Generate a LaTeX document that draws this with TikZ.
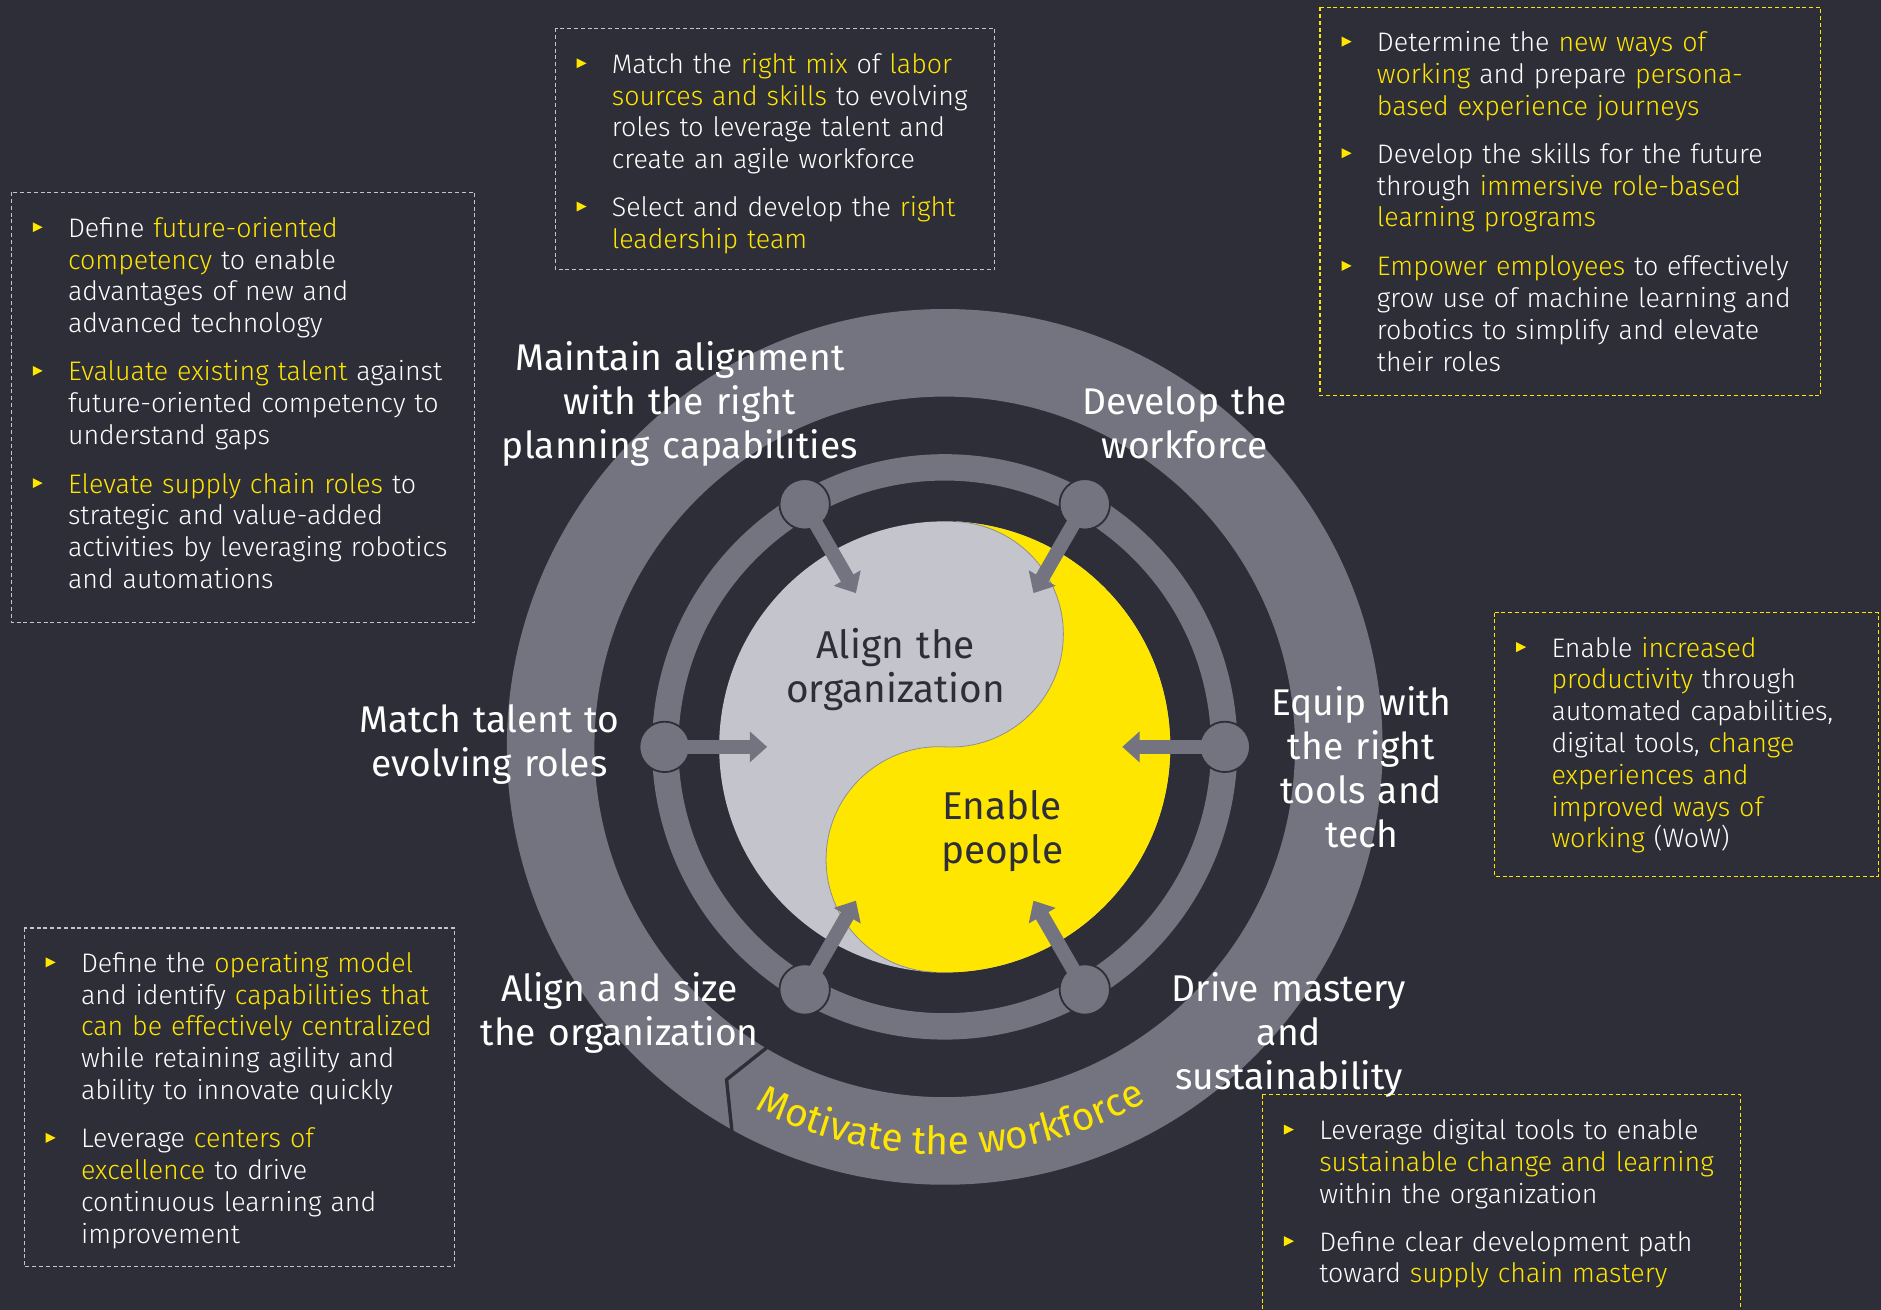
\documentclass[tikz,border=0pt]{standalone}
\usepackage{fontspec}
\setmainfont{Fira Sans}
\newfontfamily\bodyfont{Fira Sans Light}
\usetikzlibrary{arrows.meta,calc,decorations.text}
\definecolor{eybg}{HTML}{2E2E38}
\definecolor{eygray}{HTML}{747480}
\definecolor{eylight}{HTML}{C4C4CD}
\definecolor{eyyellow}{HTML}{FFE600}
\definecolor{eydash}{HTML}{C4C4CD}
\definecolor{eyseam}{HTML}{8E8E98}
\newcommand\yel[1]{\textcolor{eyyellow}{#1}}

\begin{document}
\begin{tikzpicture}[x=0.6pt,y=0.6pt,
  body/.style={anchor=base west, inner sep=0pt, text width=260pt, align=left,
    text=white, font=\bodyfont\fontsize{13.4pt}{15.9pt}\selectfont},
  lbl/.style={anchor=base, inner sep=0pt, text width=220pt, align=center,
    text=white, font=\fontsize{18.6pt}{22pt}\selectfont},
  core/.style={lbl, text=eybg, font=\fontsize{19.4pt}{22pt}\selectfont},
  gbox/.style={draw=eydash, line width=0.55pt, dash pattern=on 2pt off 1.4pt},
  ybox/.style={gbox, draw=eyyellow},
  bul/.style={fill=eyyellow},
  hub/.style={circle, fill=eygray, draw=eybg, line width=0.9pt,
    minimum size=25.2pt, inner sep=0pt},
  spoke/.style={draw=eygray, line width=7.2pt,
    -{Triangle[width=15pt,length=8.7pt]}},
]
% canvas
\fill[eybg] (0,0) rectangle (1568,1092);
\useasboundingbox (0,0) rectangle (1568,1092);

\coordinate (C) at (787.5,469.4);

% outer ring with the seam of the circular arrow
\fill[eygray, even odd rule] (C) circle[radius=365] (C) circle[radius=292];
\draw[eybg, line width=1.7pt, line join=miter]
  ($(C)+(239.8:286)$) -- ($(C)+(236.75:331.7)$) -- ($(C)+(241.65:372)$);
\path[decorate, decoration={text along path, text align=center,
    text color=eyyellow,
    text={|\fontsize{19.5pt}{22pt}\selectfont|Motivate the workforce}}]
  ($(C)+(196:340)$) arc[start angle=196, end angle=346, radius=340];

% middle ring
\draw[eygray, line width=13.2pt] (C) circle[radius=233];

% yin-yang core
\fill[eylight] (C) circle[radius=188];
\begin{scope}[shift={(C)}, rotate=-3]
  \fill[eyyellow] (0,188) arc[start angle=90, end angle=-90, radius=188]
    arc[start angle=-90, end angle=-270, radius=94]
    arc[start angle=-90, end angle=90, radius=94] -- cycle;
  \draw[eyseam, line width=0.4pt] (0,188)
    arc[start angle=90, end angle=-90, radius=94]
    arc[start angle=90, end angle=270, radius=94];
\end{scope}

% hubs on the middle ring and their arrows into the core
\foreach \a/\n in {120/1, 60/2, 180/3, 0/4, 240/5, 300/6} {
  \node[hub] (h\n) at ($(C)+(\a:233.5)$) {};
  \coordinate (t\n) at ($(C)+(\a:148)$);
  \draw[spoke] (h\n.center) -- (t\n);
}

% core texts
\node[core] (core1) at (746.7,543.2) {Align the\\organization};
\node[core] (core2) at (835.4,408.7) {Enable\\people};

% ring labels
\node[lbl] (l1) at (566.7,782.9) {Maintain alignment\\with the right\\planning capabilities};
\node[lbl] (l2) at (987.5,746.2) {Develop the\\workforce};
\node[lbl] (l3) at (408,481.1) {Match talent to\\evolving roles};
\node[lbl] (l4) at (1135,495.8) {Equip with\\the right\\tools and\\tech};
\node[lbl] (l5) at (516.5,257.1) {Align and size\\the organization};
\node[lbl] (l6) at (1074.5,257.1) {Drive mastery\\and\\sustainability};

% detail boxes
\draw[gbox] (463,1068.4) rectangle (829.2,867);
\draw[gbox] (9.7,931.7) rectangle (395.8,573.1);
\draw[ybox] (1100.3,1085.9) rectangle (1517.8,762.3);
\draw[ybox] (1245.8,581.4) rectangle (1565.8,361.4);
\draw[gbox] (20.3,318.4) rectangle (379.2,35.9);
\draw[ybox] (1052.2,179.5) rectangle (1450.8,-10);

% top middle
\node[body] (b1a) at (509.7,1030.9) {Match the \yel{right mix} of \yel{labor}\\\yel{sources and skills} to evolving\\roles to leverage talent and\\create an agile workforce};
\node[body] (b1b) at (509.7,911.5) {Select and develop the \yel{right}\\\yel{leadership team}};
% left
\node[body] (b2a) at (56.4,894.2) {Define \yel{future-oriented}\\\yel{competency} to enable\\advantages of new and\\advanced technology};
\node[body] (b2b) at (56.4,774.5) {\yel{Evaluate existing talent} against\\future-oriented competency to\\understand gaps};
\node[body] (b2c) at (56.4,680.9) {\yel{Elevate supply chain roles} to\\strategic and value-added\\activities by leveraging robotics\\and automations};
% top right
\node[body] (b3a) at (1147.5,1048.9) {Determine the \yel{new ways of}\\\yel{working} and prepare \yel{persona-}\\\yel{based experience journeys}};
\node[body] (b3b) at (1147.5,955.9) {Develop the skills for the future\\through \yel{immersive role-based}\\\yel{learning programs}};
\node[body] (b3c) at (1147.5,862) {\yel{Empower employees} to effectively\\grow use of machine learning and\\robotics to simplify and elevate\\their roles};
% right
\node[body] (b4a) at (1293,544.2) {Enable \yel{increased}\\\yel{productivity} through\\automated capabilities,\\digital tools, \yel{change}\\\yel{experiences and}\\\yel{improved ways of}\\\yel{working} (WoW)};
% bottom left
\node[body] (b5a) at (67.2,281.4) {Define the \yel{operating model}\\and identify \yel{capabilities that}\\\yel{can be effectively centralized}\\while retaining agility and\\ability to innovate quickly};
\node[body] (b5b) at (67.2,135.1) {Leverage \yel{centers of}\\\yel{excellence} to drive\\continuous learning and\\improvement};
% bottom right
\node[body] (b6a) at (1099.4,142) {Leverage digital tools to enable\\\yel{sustainable change and learning}\\within the organization};
\node[body] (b6b) at (1099.4,49) {Define clear development path\\toward \yel{supply chain mastery}};

% bullet markers
\foreach \p in {b1a,b1b,b2a,b2b,b2c,b3a,b3b,b3c,b4a,b5a,b5b,b6a,b6b}
  \fill[bul] ($(\p.base west)+(-29.1,4.2)$) -- ++(0,8.3) -- ++(8.3,-4.15) -- cycle;
\end{tikzpicture}
\end{document}
